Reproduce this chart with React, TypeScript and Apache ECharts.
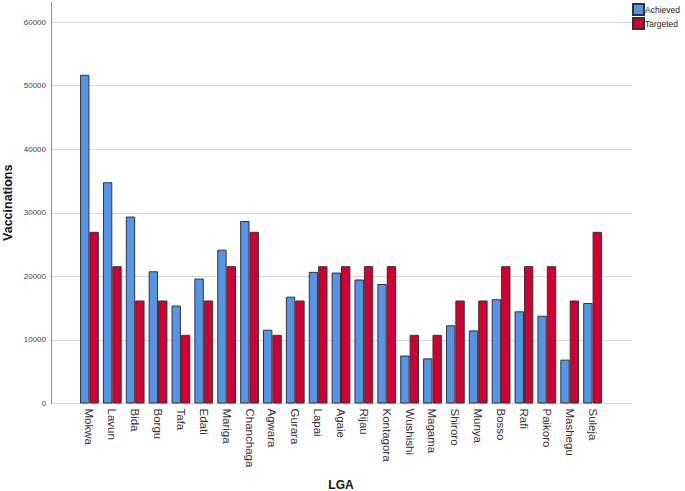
import React, { useEffect, useRef } from "react";
import * as echarts from "echarts";

const categories = [
  "Mokwa", "Lavun", "Bida", "Borgu", "Tafa", "Edati", "Mariga", "Chanchaga",
  "Agwara", "Gurara", "Lapai", "Agaie", "Rijau", "Kontagora", "Wushishi",
  "Magama", "Shiroro", "Munya", "Bosso", "Rafi", "Paikoro", "Mashegu", "Suleja",
];
const achieved = [
  51700, 34800, 29400, 20800, 15400, 19650, 24200, 28700,
  11600, 16800, 20700, 20600, 19500, 18800, 7550,
  7100, 12300, 11500, 16400, 14500, 13800, 6900, 15800,
];
const targeted = [
  27000, 21600, 16200, 16200, 10800, 16200, 21600, 27000,
  10800, 16200, 21600, 21600, 21600, 21600, 10800,
  10800, 16200, 16200, 21600, 21600, 21600, 16200, 27000,
];

const FONT = "'Liberation Sans', Arial, sans-serif";

export default function App() {
  const ref = useRef<HTMLDivElement>(null);
  useEffect(() => {
    document.body.style.margin = "0";
    const chart = echarts.init(ref.current!, null, { renderer: "svg" });
    const bottom = 87.5;
    chart.setOption({
      animation: false,
      backgroundColor: "#ffffff",
      textStyle: { fontFamily: FONT },
      legend: {
        orient: "vertical",
        left: 632,
        top: 3,
        padding: 0,
        itemWidth: 11,
        itemHeight: 11,
        itemGap: 1,
        icon: "rect",
        textStyle: { fontSize: 8.5, color: "#222", padding: [0, 0, 0, -4] },
        data: ["Achieved", "Targeted"],
      },
      grid: [
        { left: 51, right: 53, top: 2, bottom, outerBoundsMode: "none", containLabel: false },
        { left: 51, right: 53, top: 22, bottom, outerBoundsMode: "none", containLabel: false },
        { left: 78, right: 81, top: 22, bottom, outerBoundsMode: "none", containLabel: false },
      ],
      xAxis: [
        { type: "value", gridIndex: 0, show: false },
        { type: "value", gridIndex: 1, show: false },
        {
          type: "category",
          gridIndex: 2,
          data: categories,
          axisLine: { show: false },
          axisTick: { show: false },
          axisLabel: { rotate: -90, fontSize: 11.5, color: "#333", margin: 5, interval: 0 },
          name: "LGA",
          nameLocation: "middle",
          nameGap: 75,
          nameMoveOverlap: false,
          nameTextStyle: { fontSize: 12, fontWeight: "bold", color: "#111" },
        },
      ],
      yAxis: [
        {
          type: "value",
          gridIndex: 0,
          min: 0,
          max: 63100,
          axisLine: { show: true, lineStyle: { color: "#888", width: 1 } },
          axisTick: { show: false },
          axisLabel: { show: false },
          splitLine: { show: false },
          name: "Vaccinations",
          nameLocation: "middle",
          nameRotate: 90,
          nameGap: 37,
          nameMoveOverlap: false,
          nameTextStyle: { fontSize: 12.5, fontWeight: "bold", color: "#111" },
        },
        {
          type: "value",
          gridIndex: 1,
          min: 0,
          max: 60000,
          interval: 10000,
          axisLine: { show: false },
          axisTick: { show: false },
          axisLabel: { fontSize: 8, color: "#444", margin: 5, formatter: (v: number) => String(v) },
          splitLine: { show: true, lineStyle: { color: "#d4d4d4", width: 1 } },
        },
        { type: "value", gridIndex: 2, min: 0, max: 60000, show: false },
      ],
      series: [
        {
          name: "Achieved",
          type: "bar",
          xAxisIndex: 2,
          yAxisIndex: 2,
          data: achieved,
          barGap: "0%",
          barCategoryGap: "18%",
          itemStyle: { color: "#5594E6", borderColor: "#333", borderWidth: 1 },
        },
        {
          name: "Targeted",
          type: "bar",
          xAxisIndex: 2,
          yAxisIndex: 2,
          data: targeted,
          barGap: "0%",
          barCategoryGap: "18%",
          itemStyle: { color: "#D10033", borderColor: "#333", borderWidth: 1 },
        },
      ],
    });
    return () => chart.dispose();
  }, []);
  return <div ref={ref} style={{ width: 685, height: 491 }} />;
}
